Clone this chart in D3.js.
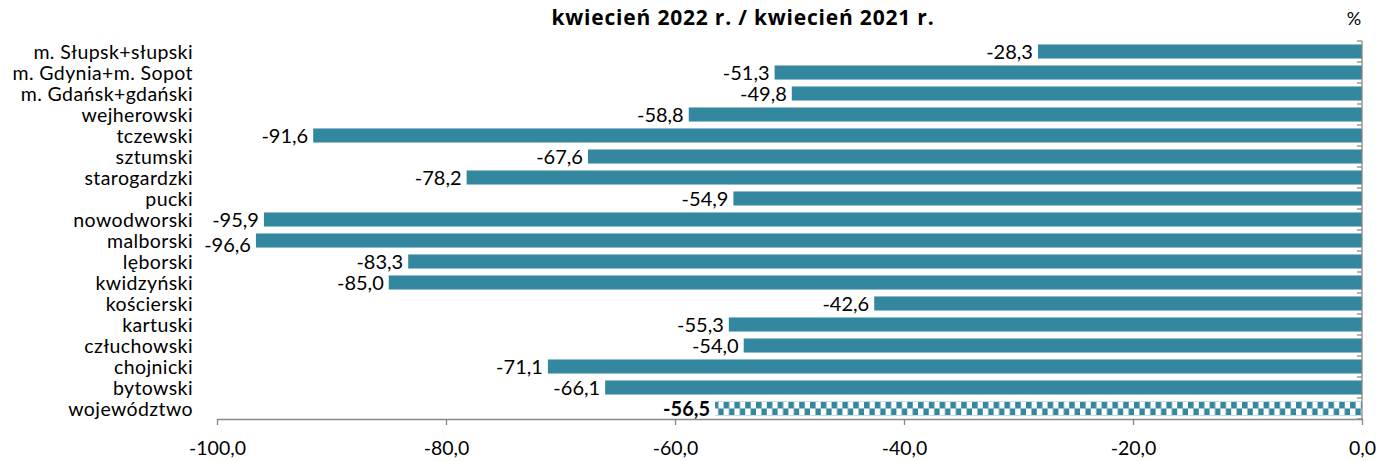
<!DOCTYPE html>
<html>
<head>
<meta charset="utf-8">
<script src="https://cdn.jsdelivr.net/npm/d3@7"></script>
<style>
  body { margin: 0; background: #fff; }
  text { font-family: Lato, "Open Sans", sans-serif; fill: #000; }
</style>
</head>
<body>
<svg id="chart"></svg>
<script>
var categories = ["m. Słupsk+słupski", "m. Gdynia+m. Sopot", "m. Gdańsk+gdański", "wejherowski",
    "tczewski", "sztumski", "starogardzki", "pucki", "nowodworski", "malborski", "lęborski",
    "kwidzyński", "kościerski", "kartuski", "człuchowski", "chojnicki", "bytowski", "województwo"];
var values = [-28.3, -51.3, -49.8, -58.8, -91.6, -67.6, -78.2, -54.9, -95.9, -96.6, -83.3,
    -85.0, -42.6, -55.3, -54.0, -71.1, -66.1, -56.5];
var tickValues = [-100, -80, -60, -40, -20, 0];
var title = "kwiecień 2022 r. / kwiecień 2021 r.";
var totalName = "województwo";

var width = 1381,
    height = 461,
    margin = {top: 41, right: 19, bottom: 42, left: 217},
    barColor = "#33879e";

var svg = d3.select("#chart").attr("width", width).attr("height", height);

var fmt = function(v) { return d3.format(".1f")(v).replace(".", ",").replace("−", "-"); };

var x = d3.scaleLinear()
    .domain([-100, 0])
    .range([margin.left, width - margin.right]);

var y = d3.scaleBand()
    .domain(categories)
    .range([margin.top, height - margin.bottom])
    .paddingInner(0.33)
    .paddingOuter(0.165);

// checkered pattern for the total bar
var defs = svg.append("defs");
var pat = defs.append("pattern")
    .attr("id", "checker")
    .attr("patternUnits", "userSpaceOnUse")
    .attr("width", 10.8)
    .attr("height", 14)
    .attr("y", y(totalName));
pat.append("rect").attr("x", 0).attr("y", 0).attr("width", 5.6).attr("height", 7).attr("fill", barColor);
pat.append("rect").attr("x", 5.4).attr("y", 7).attr("width", 5.6).attr("height", 7).attr("fill", barColor);

var data = categories.map(function(c, i) { return {name: c, value: values[i]}; });

svg.selectAll(".bar")
    .data(data)
    .enter()
    .append("rect")
    .attr("class", "bar")
    .attr("x", function(d) { return x(d.value); })
    .attr("y", function(d) { return y(d.name); })
    .attr("width", function(d) { return x(0) - x(d.value); })
    .attr("height", y.bandwidth())
    .attr("fill", function(d) { return d.name == totalName ? "url(#checker)" : barColor; });

// value labels; the longest bar's label is pushed down a bit, like the original does
var minVal = d3.min(values);
svg.selectAll(".val")
    .data(data)
    .enter()
    .append("text")
    .attr("class", "val")
    .attr("x", function(d) { return x(d.value) - 5; })
    .attr("y", function(d) { return y(d.name) + y.bandwidth() / 2 + (d.value == minVal ? 4 : 0); })
    .attr("dy", "0.36em")
    .attr("text-anchor", "end")
    .style("font-size", "20px")
    .style("font-weight", function(d) { return d.name == totalName ? "bold" : "normal"; })
    .text(function(d) { return fmt(d.value); });

// category labels
svg.selectAll(".cat")
    .data(data)
    .enter()
    .append("text")
    .attr("class", "cat")
    .attr("x", 193)
    .attr("y", function(d) { return y(d.name) + y.bandwidth() / 2; })
    .attr("dy", "0.36em")
    .attr("text-anchor", "end")
    .style("font-size", "19.5px")
    .style("letter-spacing", "0.4px")
    .text(function(d) { return d.name; });

// x axis
var xAxis = svg.append("g")
    .attr("transform", "translate(0," + (height - margin.bottom) + ")")
    .call(d3.axisBottom(x).tickValues(tickValues).tickSize(6).tickSizeOuter(0).tickFormat(fmt));
xAxis.select(".domain").attr("stroke", "#888").attr("stroke-width", 1.3);
xAxis.selectAll(".tick line").attr("stroke", "#888").attr("stroke-width", 1.3);
xAxis.selectAll(".tick text")
    .attr("y", 22)
    .style("font-size", "19.5px")
    .style("font-family", "Lato, 'Open Sans', sans-serif")
    .attr("fill", "#000");

// vertical axis at zero, ticks at band boundaries
var step = y.step();
var bounds = d3.range(categories.length + 1).map(function(i) { return margin.top + i * step; });
var vAxis = svg.append("g");
vAxis.append("line")
    .attr("x1", x(0)).attr("x2", x(0))
    .attr("y1", margin.top).attr("y2", height - margin.bottom)
    .attr("stroke", "#888").attr("stroke-width", 1.3);
vAxis.selectAll(".vt")
    .data(bounds)
    .enter()
    .append("line")
    .attr("x1", x(0) - 5).attr("x2", x(0))
    .attr("y1", function(d) { return d; }).attr("y2", function(d) { return d; })
    .attr("stroke", "#888").attr("stroke-width", 1.3);

// title and unit
svg.append("text")
    .attr("x", 743)
    .attr("y", 25)
    .attr("text-anchor", "middle")
    .style("font-family", "'Open Sans', sans-serif")
    .style("font-size", "21px")
    .style("letter-spacing", "0.8px")
    .style("font-weight", "bold")
    .text(title);

svg.append("text")
    .attr("x", 1354)
    .attr("y", 25)
    .attr("text-anchor", "middle")
    .style("font-size", "18px")
    .text("%");
</script>
</body>
</html>
